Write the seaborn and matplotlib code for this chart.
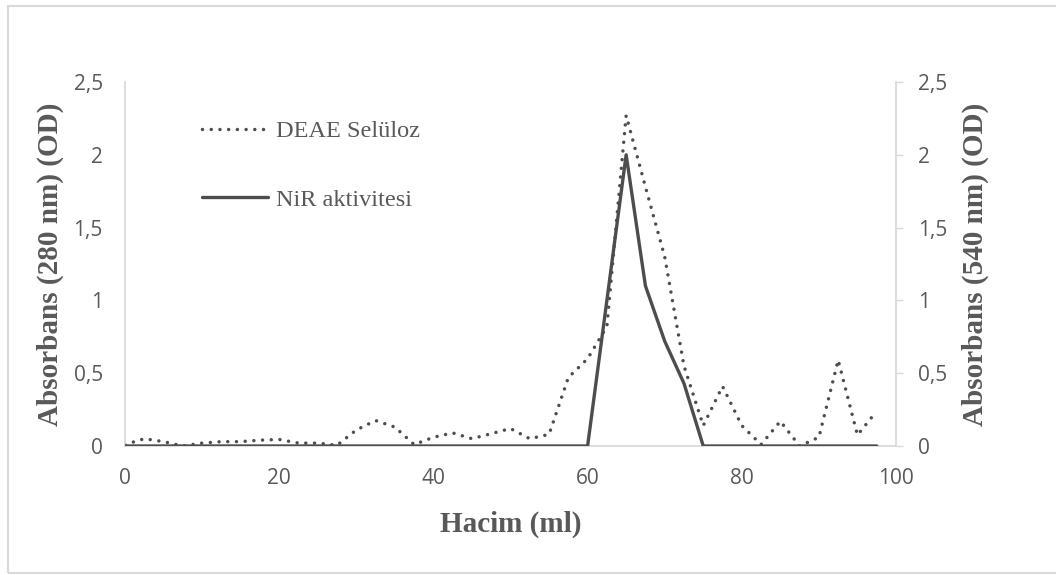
import numpy as np
import pandas as pd
import matplotlib
matplotlib.use("Agg")
import matplotlib.pyplot as plt
import seaborn as sns
from matplotlib.ticker import FuncFormatter, MultipleLocator
from matplotlib.patches import Rectangle
from matplotlib.lines import Line2D

# ------------------------------------------
# Data (step 2.5 ml)
# ------------------------------------------
hacim = [0, 2.5, 5, 7.5, 10, 12.5, 15, 17.5, 20, 22.5,
         25, 27.5, 30, 32.5, 35, 37.5, 40, 42.5, 45, 47.5,
         50, 52.5, 55, 57.5, 60, 62.5, 65, 67.5, 70, 72.5,
         75, 77.5, 80, 82.5, 85, 87.5, 90, 92.5, 95, 97.5]

# DEAE Selüloz, absorbans 280 nm
deae = [0.01, 0.05, 0.03, 0.0, 0.02, 0.03, 0.03, 0.04, 0.045, 0.02,
        0.02, 0.005, 0.11, 0.175, 0.13, 0.01, 0.06, 0.09, 0.05, 0.085,
        0.12, 0.05, 0.08, 0.47, 0.6, 0.82, 2.27, 1.78, 1.3, 0.55,
        0.14, 0.41, 0.14, 0.01, 0.17, 0.0, 0.06, 0.59, 0.075, 0.24]

# NiR aktivitesi, absorbans 540 nm
nir = [0, 0, 0, 0, 0, 0, 0, 0, 0, 0,
       0, 0, 0, 0, 0, 0, 0, 0, 0, 0,
       0, 0, 0, 0, 0, 1.0, 2.0, 1.1, 0.72, 0.43,
       0, 0, 0, 0, 0, 0, 0, 0, 0, 0]

df = pd.DataFrame({"Hacim": hacim, "DEAE": deae, "NiR": nir})

# ------------------------------------------
# Style
# ------------------------------------------
sns.set_theme(style="white")
plt.rcParams["font.family"] = ["Open Sans", "DejaVu Sans"]

line_col = "#4d4d4d"
text_col = "#595959"
grid_col = "#d9d9d9"
serif = ["Liberation Serif", "DejaVu Serif"]
dotted = (0, (0.01, 2.5))

W, H = 1056, 575
fig = plt.figure(figsize=(W / 100, H / 100), dpi=100)
ax = fig.add_axes([125 / W, 1 - 446 / H, (896 - 125) / W, (446 - 82) / H])
ax2 = ax.twinx()

sns.lineplot(data=df, x="Hacim", y="DEAE", ax=ax, color=line_col, lw=2.5,
             linestyle=dotted, dash_capstyle="round", legend=False)
sns.lineplot(data=df, x="Hacim", y="NiR", ax=ax2, color=line_col, lw=2.4,
             legend=False)

for a in (ax, ax2):
    a.set_xlim(0, 100)
    a.set_ylim(0, 2.5)
    a.yaxis.set_major_locator(MultipleLocator(0.5))
    a.yaxis.set_major_formatter(FuncFormatter(lambda v, _: f"{v:g}".replace(".", ",")))
    for s in a.spines.values():
        s.set_visible(False)

ax.xaxis.set_major_locator(MultipleLocator(20))
ax.spines["left"].set_visible(True)
ax.spines["bottom"].set_visible(True)
ax.spines["left"].set_color(grid_col)
ax.spines["bottom"].set_color(grid_col)
ax2.spines["right"].set_visible(True)
ax2.spines["right"].set_color(grid_col)

ax.tick_params(axis="y", left=True, length=0, pad=16, labelsize=15, labelcolor=text_col)
ax.tick_params(axis="x", bottom=True, length=0, pad=16, labelsize=15, labelcolor=text_col)
ax2.tick_params(axis="y", right=True, length=5, width=1, color=grid_col, pad=11,
                labelsize=15, labelcolor=text_col)

lab_kw = dict(family=serif, weight="bold", size=21, color=text_col)
ax.set_xlabel("Hacim (ml)", **lab_kw)
ax.set_ylabel("Absorbans (280 nm) (OD)", **lab_kw)
ax2.set_ylabel("Absorbans (540 nm) (OD)", **lab_kw)
ax.xaxis.set_label_coords(0.5, (446 - 524) / 364)
ax.xaxis.label.set_va("center")
ax.yaxis.set_label_coords((50 - 125) / 771, 0.5)
ax.yaxis.label.set_va("center")
ax2.yaxis.set_label_coords((975 - 125) / 771, 0.5)
ax2.yaxis.label.set_va("center")

handles = [
    Line2D([], [], color=line_col, lw=2.5, linestyle=dotted, dash_capstyle="round"),
    Line2D([], [], color=line_col, lw=2.4),
]
leg = ax2.legend(handles, ["DEAE Selüloz", "NiR aktivitesi"], loc="center left",
                 bbox_to_anchor=(202 / W, 1 - 165.5 / H), bbox_transform=fig.transFigure,
                 frameon=False, borderpad=0, borderaxespad=0, handlelength=2.7,
                 handletextpad=0.35, labelspacing=1.9,
                 prop=dict(family=serif, size=17.5))
for t in leg.get_texts():
    t.set_color(text_col)

# outer chart border
fig.patches.append(Rectangle((8 / W, 1 - 573 / H), (1070 - 8) / W, (573 - 6) / H,
                             transform=fig.transFigure, fill=False,
                             edgecolor=grid_col, lw=1.5))

fig.savefig("out.png", dpi=100)
